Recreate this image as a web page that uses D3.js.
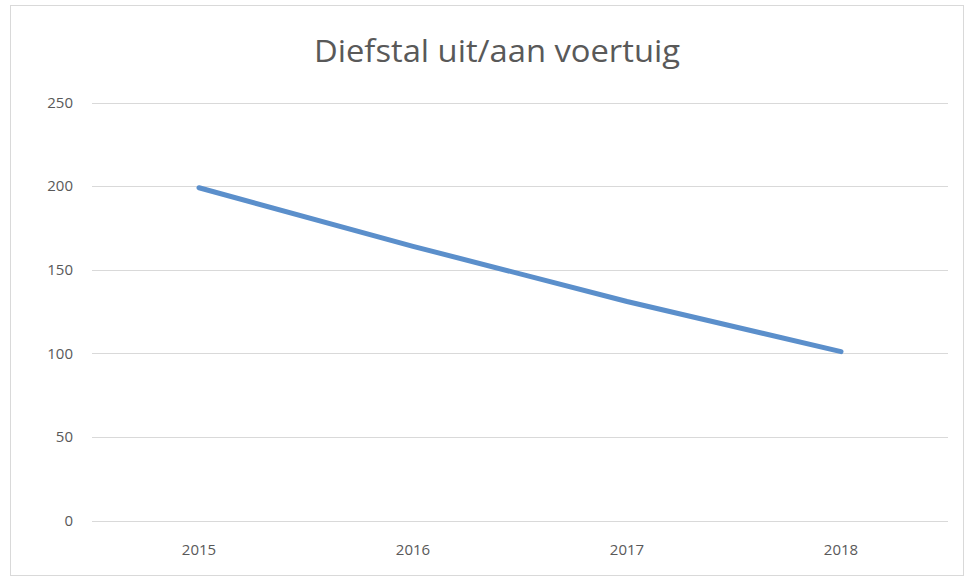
<!DOCTYPE html>
<html>
<head>
<meta charset="utf-8">
<script src="https://cdn.jsdelivr.net/npm/d3@7"></script>
<style>
	body { margin: 0; background: #fff; }
	text { font-family: "Open Sans", "DejaVu Sans", sans-serif; fill: #595959; }
</style>
</head>
<body>
<svg id="chart" width="968" height="578"></svg>
<script>
// data
var years = ["2015", "2016", "2017", "2018"];
var values = [199, 164, 131, 101];
var yTicks = [0, 50, 100, 150, 200, 250];
var title = "Diefstal uit/aan voertuig";

var w = 968,
	h = 578;

var svg = d3.select("#chart");

// outer frame
svg.append("rect")
	.attr("x", 10.5)
	.attr("y", 5.5)
	.attr("width", 953)
	.attr("height", 570)
	.style("fill", "#fff")
	.style("stroke", "#d9d9d9");

var x = d3.scalePoint()
	.domain(years)
	.range([92, 948])
	.padding(0.5);

var y = d3.scaleLinear()
	.domain([0, 250])
	.range([520.5, 102.5]);

// gridlines
svg.append("g")
	.selectAll("line")
	.data(yTicks)
	.enter()
	.append("line")
	.attr("x1", 92)
	.attr("x2", 948)
	.attr("y1", d => Math.round(y(d)) + 0.5)
	.attr("y2", d => Math.round(y(d)) + 0.5)
	.style("stroke", "#d9d9d9")
	.style("stroke-width", 1);

// y labels
svg.append("g")
	.selectAll("text")
	.data(yTicks)
	.enter()
	.append("text")
	.attr("x", 73)
	.attr("y", d => y(d))
	.attr("dy", "0.35em")
	.attr("text-anchor", "end")
	.style("font-size", "15px")
	.text(d => d);

// x labels
svg.append("g")
	.selectAll("text")
	.data(years)
	.enter()
	.append("text")
	.attr("x", d => x(d))
	.attr("y", 550)
	.attr("dy", "0.35em")
	.attr("text-anchor", "middle")
	.style("font-size", "15px")
	.text(d => d);

// the line
var line = d3.line()
	.x((d, i) => x(years[i]))
	.y(d => y(d));

svg.append("path")
	.datum(values)
	.attr("d", line)
	.style("fill", "none")
	.style("stroke", "#5b8fcb")
	.style("stroke-width", 5)
	.style("stroke-linecap", "round")
	.style("stroke-linejoin", "round");

// title
svg.append("text")
	.attr("x", 497)
	.attr("y", 62)
	.attr("text-anchor", "middle")
	.attr("textLength", 366)
	.attr("lengthAdjust", "spacingAndGlyphs")
	.style("font-size", "31px")
	.text(title);
</script>
</body>
</html>
